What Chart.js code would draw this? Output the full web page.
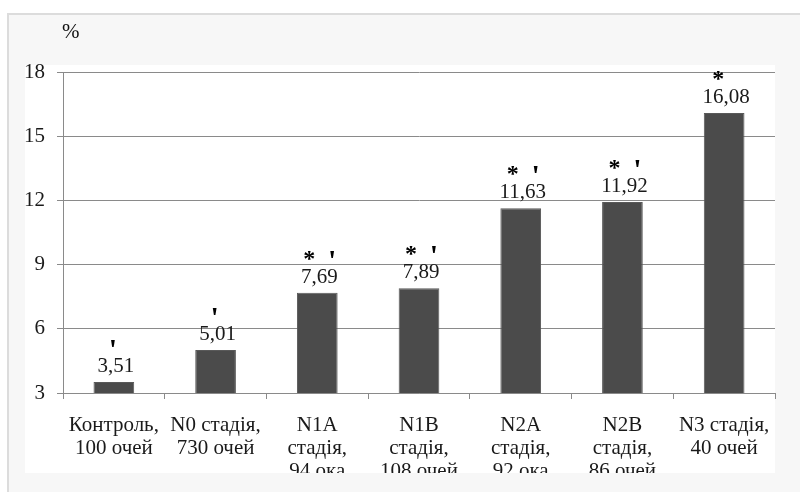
<!DOCTYPE html>
<html>
<head>
<meta charset="utf-8">
<script src="https://cdn.jsdelivr.net/npm/chart.js@4"></script>
<style>
  html, body { margin: 0; padding: 0; background: #ffffff; overflow: hidden; }
  #wrap { position: absolute; left: 0; top: 0; width: 800px; height: 492px; }
</style>
</head>
<body>
<div id="wrap"><canvas id="c" width="800" height="492"></canvas></div>
<script>
const categories = [
  ["Контроль,", "100 очей"],
  ["N0 стадія,", "730 очей"],
  ["N1A", "стадія,", "94 ока"],
  ["N1B", "стадія,", "108 очей"],
  ["N2A", "стадія,", "92 ока"],
  ["N2B", "стадія,", "86 очей"],
  ["N3 стадія,", "40 очей"]
];
const values = [3.51, 5.01, 7.69, 7.89, 11.63, 11.92, 16.08];
const valueLabels = ["3,51", "5,01", "7,69", "7,89", "11,63", "11,92", "16,08"];
const starMarks = [false, false, true, true, true, true, true];
const primeMarks = [true, true, true, true, true, true, false];
const yTicks = [3, 6, 9, 12, 15, 18];
const unitLabel = "%";

const serif = "'Liberation Serif'";
const WHITE = { left: 25, top: 65, right: 775, bottom: 473 };

const framePlugin = {
  id: 'frame',
  beforeDraw(chart) {
    const ctx = chart.ctx;
    ctx.save();
    ctx.fillStyle = '#ffffff';
    ctx.fillRect(0, 0, 800, 492);
    ctx.fillStyle = '#f7f7f7';
    ctx.fillRect(7, 13, 793, 479);
    ctx.fillStyle = '#dcdcdc';
    ctx.fillRect(7, 13, 793, 2);
    ctx.fillRect(7, 13, 2, 479);
    ctx.fillStyle = '#ffffff';
    ctx.fillRect(WHITE.left, WHITE.top, WHITE.right - WHITE.left, WHITE.bottom - WHITE.top);
    ctx.restore();
  },
  afterDraw(chart) {
    const ctx = chart.ctx;
    ctx.save();
    ctx.fillStyle = '#f7f7f7';
    ctx.fillRect(9, WHITE.bottom, 791, 492 - WHITE.bottom);
    ctx.fillStyle = '#dcdcdc';
    ctx.fillRect(7, WHITE.bottom, 2, 492 - WHITE.bottom);
    ctx.fillStyle = '#111';
    ctx.font = '21px ' + serif;
    ctx.textAlign = 'left';
    ctx.textBaseline = 'alphabetic';
    ctx.fillText(unitLabel, 62, 38);
    ctx.restore();
  }
};

const labelPlugin = {
  id: 'labels',
  afterDatasetsDraw(chart) {
    const ctx = chart.ctx;
    const meta = chart.getDatasetMeta(0);
    ctx.save();
    meta.data.forEach((bar, i) => {
      const x = bar.x, top = bar.y;
      ctx.fillStyle = '#1a1a1a';
      ctx.textAlign = 'center';
      ctx.textBaseline = 'alphabetic';
      ctx.font = '21px ' + serif;
      ctx.fillText(valueLabels[i], x + 2, top - 10);
      const markY = top - 27;
      ctx.fillStyle = '#000';
      if (starMarks[i]) {
        ctx.font = 'bold 24px ' + serif;
        ctx.fillText('*', primeMarks[i] ? x - 8 : x - 6, markY);
      }
      if (primeMarks[i]) {
        ctx.font = 'bold 30px ' + serif;
        ctx.fillText("'", starMarks[i] ? x + 15 : x - 1, markY + 4);
      }
    });
    ctx.restore();
  }
};

function build() {
  Chart.defaults.font.family = serif;
  new Chart(document.getElementById('c'), {
    type: 'bar',
    data: {
      labels: categories,
      datasets: [{
        data: values,
        backgroundColor: '#4b4b4b',
        borderColor: '#595959',
        borderWidth: 1,
        barPercentage: 0.4,
        categoryPercentage: 1.0
      }]
    },
    options: {
      responsive: false,
      animation: false,
      devicePixelRatio: 1,
      layout: { padding: { left: WHITE.left, top: 72, right: 800 - WHITE.right, bottom: 492 - WHITE.bottom } },
      plugins: { legend: { display: false }, tooltip: { enabled: false } },
      scales: {
        x: {
          grid: { display: true, drawOnChartArea: false, drawTicks: true, tickLength: 6, color: '#8a8a8a', offset: true },
          border: { display: true, color: '#8a8a8a' },
          ticks: { color: '#1a1a1a', font: { family: serif, size: 21, lineHeight: 1.1 }, padding: 15, maxRotation: 0, autoSkip: false },
          afterFit(scale) { scale.height = 80; scale.paddingLeft = 0; scale.paddingRight = 0; }
        },
        y: {
          min: 3, max: 18,
          afterBuildTicks(scale) { scale.ticks = yTicks.map(v => ({ value: v })); },
          grid: { color: '#8a8a8a', tickLength: 6, drawTicks: true },
          border: { display: true, color: '#8a8a8a' },
          ticks: { color: '#1a1a1a', font: { family: serif, size: 21 }, padding: 12 },
          afterFit(scale) { scale.width = 38; scale.paddingTop = 0; scale.paddingBottom = 0; }
        }
      }
    },
    plugins: [framePlugin, labelPlugin]
  });
}

if (document.fonts && document.fonts.load) {
  Promise.all([
    document.fonts.load("21px 'Liberation Serif'"),
    document.fonts.load("bold 24px 'Liberation Serif'")
  ]).then(build, build);
} else {
  build();
}
</script>
</body>
</html>
